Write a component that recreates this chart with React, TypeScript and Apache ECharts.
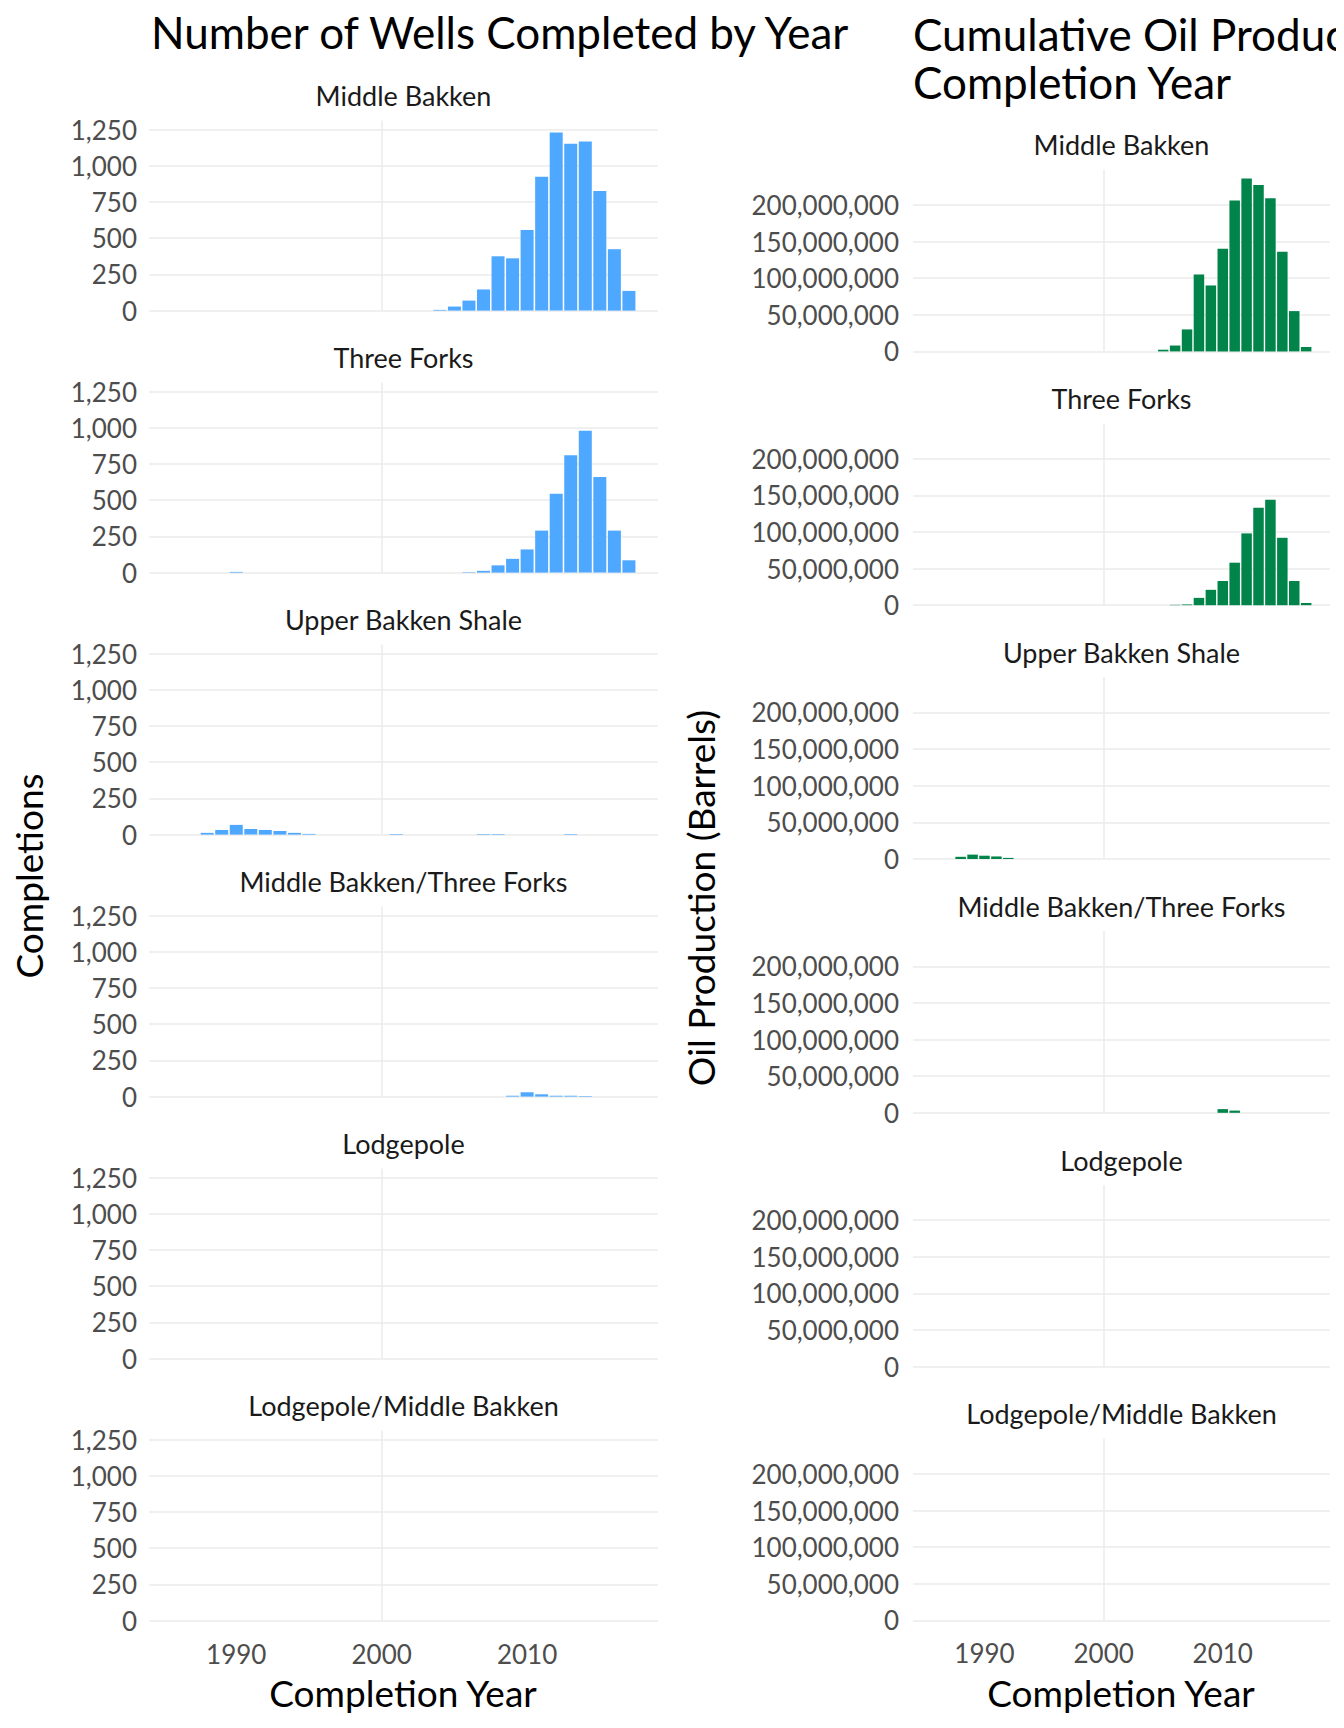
import { useRef, useEffect } from 'react'
import * as echarts from 'echarts'

const facets = [
  'Middle Bakken',
  'Three Forks',
  'Upper Bakken Shale',
  'Middle Bakken/Three Forks',
  'Lodgepole',
  'Lodgepole/Middle Bakken',
]

// [completion year, completions]
const wellsMiddleBakken: [number, number][] = [
  [2004, 5], [2005, 28], [2006, 69], [2007, 146], [2008, 375], [2009, 361], [2010, 556],
  [2011, 924], [2012, 1229], [2013, 1153], [2014, 1167], [2015, 826], [2016, 424], [2017, 136],
]
const wellsThreeForks: [number, number][] = [
  [1990, 5], [2006, 3], [2007, 12], [2008, 50], [2009, 95], [2010, 160], [2011, 290],
  [2012, 545], [2013, 810], [2014, 980], [2015, 660], [2016, 290], [2017, 85],
]
const wellsUpperBakken: [number, number][] = [
  [1988, 12], [1989, 32], [1990, 67], [1991, 39], [1992, 32], [1993, 25], [1994, 12],
  [1995, 5], [2001, 4], [2007, 4], [2008, 4], [2013, 4],
]
const wellsMbTf: [number, number][] = [
  [2009, 6], [2010, 30], [2011, 16], [2012, 6], [2013, 6], [2014, 4],
]
const wellsLodgepole: [number, number][] = []
const wellsLpMb: [number, number][] = []

// [completion year, barrels]
const oilMiddleBakken: [number, number][] = [
  [2005, 2.3e6], [2006, 8e6], [2007, 30e6], [2008, 105e6], [2009, 90e6], [2010, 140e6],
  [2011, 206e6], [2012, 236e6], [2013, 227e6], [2014, 209e6], [2015, 136e6], [2016, 55e6], [2017, 6e6],
]
const oilThreeForks: [number, number][] = [
  [2006, 0.5e6], [2007, 1e6], [2008, 10e6], [2009, 21e6], [2010, 33e6], [2011, 58e6],
  [2012, 98e6], [2013, 133e6], [2014, 144e6], [2015, 92e6], [2016, 33e6], [2017, 3e6],
]
const oilUpperBakken: [number, number][] = [
  [1988, 3e6], [1989, 6e6], [1990, 4.5e6], [1991, 3.5e6], [1992, 1.5e6],
]
const oilMbTf: [number, number][] = [[2010, 5e6], [2011, 3e6]]
const oilLodgepole: [number, number][] = []
const oilLpMb: [number, number][] = []

const wellsData = [wellsMiddleBakken, wellsThreeForks, wellsUpperBakken, wellsMbTf, wellsLodgepole, wellsLpMb]
const oilData = [oilMiddleBakken, oilThreeForks, oilUpperBakken, oilMbTf, oilLodgepole, oilLpMb]
const yearTicks = [1990, 2000, 2010]

const FONT = 'Lato'
const GRID = '#ebebeb'

export default function App() {
  const ref = useRef<HTMLDivElement>(null)

  useEffect(() => {
    if (!ref.current) return
    const chart = echarts.init(ref.current, undefined, { renderer: 'svg' })

    const grids: any[] = []
    const xAxis: any[] = []
    const yAxis: any[] = []
    const series: any[] = []
    const graphic: any[] = []

    const fmt = (v: number) => v.toLocaleString('en-US')

    const addPanel = (
      i: number, left: number, right: number, zero: number, height: number,
      ymax: number, interval: number, data: [number, number][], color: string,
      barWidth: number, margin: number, stripTop: number,
    ) => {
      const idx = grids.length
      grids.push({ left, width: right - left, top: zero - height, height })
      const last = i === facets.length - 1
      xAxis.push({
        type: 'value', gridIndex: idx, min: 1984, max: 2019,
        axisLine: { show: false },
        axisTick: { show: false, customValues: yearTicks },
        splitLine: { show: true, showMinLine: false, showMaxLine: false, lineStyle: { color: GRID, width: 1.5 } },
        axisLabel: { show: last, customValues: yearTicks, color: '#4d4d4d', fontSize: 26, fontFamily: FONT, margin: 20, formatter: (v: number) => String(v) },
      })
      yAxis.push({
        type: 'value', gridIndex: idx, min: 0, max: ymax, interval,
        axisLine: { show: false }, axisTick: { show: false },
        splitLine: { showMaxLine: false, lineStyle: { color: GRID, width: 1.5 } },
        axisLabel: { color: '#4d4d4d', fontSize: 26, fontFamily: FONT, margin, showMaxLabel: false, formatter: fmt },
      })
      series.push({
        type: 'bar', xAxisIndex: idx, yAxisIndex: idx, data, barWidth,
        itemStyle: { color },
      })
      graphic.push({
        type: 'text', x: (left + right) / 2, y: stripTop,
        style: { text: facets[i], font: `27px ${FONT}`, fill: '#1a1a1a', textAlign: 'center' },
      })
    }

    facets.forEach((_, i) => {
      const zeroL = 310.6 + i * 262
      addPanel(i, 149, 658, zeroL, 190, 1312, 250, wellsData[i], '#4fa8ff', 13, 12, zeroL - 229)
      const zeroR = 351.4 + i * 253.8
      addPanel(i, 913, 1330, zeroR, 181.7, 248e6, 50e6, oilData[i], '#00844a', 10.5, 14, zeroR - 220)
    })

    graphic.push(
      { type: 'text', x: 151, y: 10, style: { text: 'Number of Wells Completed by Year', font: `44px ${FONT}`, fill: '#000' } },
      { type: 'text', x: 913, y: 10, style: { text: 'Cumulative Oil Production by\nCompletion Year', font: `44px ${FONT}`, fill: '#000', lineHeight: 48 } },
      { type: 'text', x: 403, y: 1674, style: { text: 'Completion Year', font: `37px ${FONT}`, fill: '#000', textAlign: 'center' } },
      { type: 'text', x: 1121, y: 1674, style: { text: 'Completion Year', font: `37px ${FONT}`, fill: '#000', textAlign: 'center' } },
      { type: 'text', x: 10, y: 876, rotation: Math.PI / 2, style: { text: 'Completions', font: `37px ${FONT}`, fill: '#000', textAlign: 'center', textVerticalAlign: 'top' } },
      { type: 'text', x: 682, y: 898, rotation: Math.PI / 2, style: { text: 'Oil Production (Barrels)', font: `37px ${FONT}`, fill: '#000', textAlign: 'center', textVerticalAlign: 'top' } },
    )

    chart.setOption({ animation: false, backgroundColor: '#fff', grid: grids, xAxis, yAxis, series, graphic })
    return () => chart.dispose()
  }, [])

  return <div ref={ref} style={{ width: 1344, height: 1728, margin: -8 }} />
}
